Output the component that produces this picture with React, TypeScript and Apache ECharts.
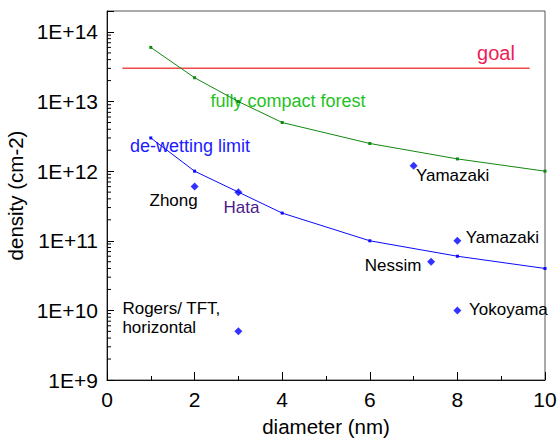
import React, { useEffect, useRef } from "react";
import * as echarts from "echarts";

// fully compact forest (green)
const forestX = [1, 2, 3, 4, 6, 8, 10];
const forestY = [6e13, 2.2e13, 1e13, 5e12, 2.5e12, 1.5e12, 1e12];

// de-wetting limit (blue)
const dewetX = [1, 2, 4, 6, 8, 10];
const dewetY = [3e12, 1e12, 2.5e11, 1e11, 6e10, 4e10];

// goal line
const goalX = [0.35, 9.65];
const goalValue = 3e13;

// reported results (diamonds)
const pointNames = ["Zhong", "Hata", "Yamazaki", "Yamazaki", "Nessim", "Yokoyama", "Rogers/ TFT,\nhorizontal"];
const pointX = [2, 3, 7, 8, 7.4, 8, 3];
const pointY = [6e11, 5e11, 1.2e12, 1e11, 5e10, 1e10, 5e9];
const pointLabelColors = ["#000", "#4b1a8a", "#000", "#000", "#000", "#000", "#000"];
const pointLabelOffsets: [number, number][] = [
  [-21, 14],
  [3, 15],
  [39, 10],
  [45, -3],
  [-38, 4],
  [51, -1],
  [-116, -13],
];
const pointLabelAlign = ["center", "center", "center", "center", "center", "center", "left"];

// axis
const xMin = 0;
const xMax = 10;
const yMin = 1e9;
const yMax = 2e14;
const yMinorDecades = [9, 10, 11, 12, 13];
const yMinorSteps = [2, 3, 4, 5, 6, 7, 8, 9];

const FONT = "'Liberation Sans', Arial, Helvetica, sans-serif";

export default function App() {
  const ref = useRef<HTMLDivElement>(null);
  useEffect(() => {
    document.body.style.margin = "0";
    const chart = echarts.init(ref.current!, null, { renderer: "svg" });

    const minorTicks: number[][] = [];
    yMinorDecades.forEach((d) =>
      yMinorSteps.forEach((k) => minorTicks.push([xMin, k * Math.pow(10, d)]))
    );

    const option: any = {
      animation: false,
      textStyle: { fontFamily: FONT },
      grid: {
        left: 107,
        right: 13,
        top: 11,
        bottom: 60,
        containLabel: false,
        outerBoundsMode: "none",
        show: true,
        borderColor: "#555",
        borderWidth: 1,
      },
      xAxis: {
        type: "value",
        min: xMin,
        max: xMax,
        interval: 2,
        name: "diameter (nm)",
        nameLocation: "middle",
        nameGap: 36,
        nameTextStyle: { fontSize: 20.5, color: "#000", fontFamily: FONT },
        axisLine: { show: true, lineStyle: { color: "#111", width: 1 } },
        axisTick: { show: true, inside: true, length: 8, lineStyle: { color: "#000" } },
        minorTick: { show: true, splitNumber: 2, length: 4, lineStyle: { color: "#000" } },
        axisLabel: { fontSize: 21, color: "#000", margin: 9, fontFamily: FONT },
        splitLine: { show: false },
      },
      yAxis: {
        type: "log",
        logBase: 10,
        min: yMin,
        max: yMax,
        name: "density (cm-2)",
        nameLocation: "middle",
        nameGap: 76,
        nameTextStyle: { fontSize: 20.5, color: "#000", fontFamily: FONT },
        axisLine: { show: true, lineStyle: { color: "#111", width: 1 } },
        axisTick: { show: true, inside: true, length: 7, lineStyle: { color: "#000" } },
        axisLabel: {
          fontSize: 21,
          color: "#000",
          margin: 9,
          fontFamily: FONT,
          formatter: (v: number) => {
            const e = Math.log10(v);
            const r = Math.round(e);
            return Math.abs(e - r) < 1e-6 ? "1E+" + r : "";
          },
        },
        splitLine: { show: false },
      },
      series: [
        {
          type: "custom",
          coordinateSystem: "cartesian2d",
          silent: true,
          clip: false,
          encode: { x: 0, y: 1 },
          data: minorTicks,
          renderItem: (params: any, api: any) => {
            const p = api.coord([api.value(0), api.value(1)]);
            return {
              type: "line",
              shape: { x1: p[0], y1: p[1], x2: p[0] + 4, y2: p[1] },
              style: { stroke: "#000", lineWidth: 1 },
            };
          },
          z: 10,
        },
        {
          type: "line",
          name: "goal",
          data: goalX.map((x) => [x, goalValue]),
          showSymbol: false,
          lineStyle: { color: "#f24b4b", width: 1.5 },
          itemStyle: { color: "#f24b4b" },
        },
        {
          type: "line",
          name: "fully compact forest",
          data: forestX.map((x, i) => [x, forestY[i]]),
          symbol: "rect",
          symbolSize: 3,
          showSymbol: true,
          lineStyle: { color: "#118811", width: 1 },
          itemStyle: { color: "#118811" },
        },
        {
          type: "line",
          name: "de-wetting limit",
          data: dewetX.map((x, i) => [x, dewetY[i]]),
          symbol: "rect",
          symbolSize: 3,
          showSymbol: true,
          lineStyle: { color: "#0a0aff", width: 1 },
          itemStyle: { color: "#0a0aff" },
        },
        {
          type: "scatter",
          symbol: "diamond",
          symbolSize: 8,
          itemStyle: { color: "#0000ff" },
          data: pointNames.map((n, i) => ({
            name: n,
            value: [pointX[i], pointY[i]],
            label: {
              show: true,
              position: "inside",
              formatter: n,
              offset: pointLabelOffsets[i],
              align: pointLabelAlign[i],
              verticalAlign: "middle",
              color: pointLabelColors[i],
              textBorderWidth: 0,
              textBorderColor: "transparent",
              opacity: 1,
              fontSize: 17,
              lineHeight: 19,
              fontFamily: FONT,
            },
          })),
          z: 5,
        },
      ],
      graphic: [
        {
          type: "text",
          x: 496,
          y: 53,
          style: {
            text: "goal",
            fill: "#ee1d57",
            fontSize: 20,
            fontFamily: FONT,
            textAlign: "center",
            textVerticalAlign: "middle",
          },
        },
        {
          type: "text",
          x: 288,
          y: 101,
          style: {
            text: "fully compact forest",
            fill: "#1fc21f",
            fontSize: 18,
            fontFamily: FONT,
            textAlign: "center",
            textVerticalAlign: "middle",
          },
        },
        {
          type: "text",
          x: 190,
          y: 146,
          style: {
            text: "de-wetting limit",
            fill: "#1a1aff",
            fontSize: 18,
            fontFamily: FONT,
            textAlign: "center",
            textVerticalAlign: "middle",
          },
        },
      ],
    };
    chart.setOption(option);
    return () => chart.dispose();
  }, []);
  return (
    <div
      ref={ref}
      style={{ position: "absolute", left: 0, top: 0, width: 558, height: 440, background: "#fff" }}
    />
  );
}
